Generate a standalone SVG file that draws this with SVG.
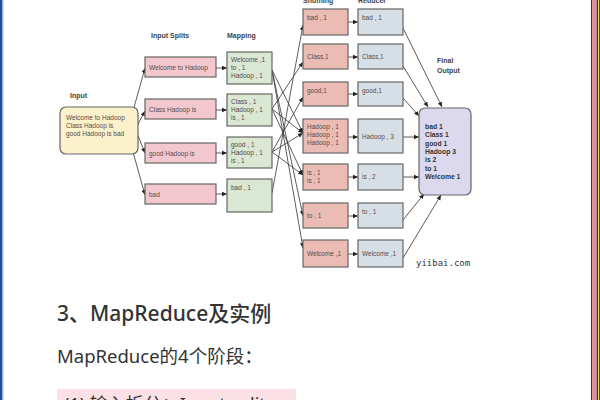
<svg xmlns="http://www.w3.org/2000/svg" width="600" height="400" viewBox="0 0 600 400">
<style>
.lbl{font-family:"Liberation Sans",Arial,sans-serif;font-size:7px;font-weight:bold;fill:#444}
.t{font-family:"Liberation Sans",Arial,sans-serif;font-size:6.5px;fill:#5a4a4a}
.box{stroke:#666;stroke-width:1.2}
.split{fill:#f2c8ce}
.map{fill:#d9e7d3}
.shuf{fill:#ebbcb4}
.red{fill:#d6dfe5}
.c{stroke:#333;stroke-width:0.8;fill:none;marker-end:url(#ah)}
.ft{font-family:"Liberation Sans",Arial,sans-serif;font-size:6.8px;font-weight:bold;fill:#333}
.cn{font-family:"Noto Sans","Noto Sans CJK SC",sans-serif;fill:#333}
</style>
<defs>
<marker id="ah" markerWidth="6" markerHeight="6" refX="5" refY="3" orient="auto" markerUnits="userSpaceOnUse">
<path d="M0,0.8 L5,3 L0,5.2 z" fill="#222"/>
</marker>
</defs>
<rect x="0" y="0" width="600" height="400" fill="#ffffff"/>
<rect x="0" y="0" width="2.5" height="400" fill="#1f4e9a"/>
<rect x="2.5" y="0" width="1" height="400" fill="#a9c3e8"/>
<rect x="591" y="0" width="1.2" height="400" fill="#333"/>
<rect x="592.2" y="0" width="4.6" height="400" fill="#e08a96"/>
<rect x="596.8" y="0" width="1.2" height="400" fill="#333"/>
<rect x="598" y="0" width="1" height="400" fill="#f2d36b"/>
<rect x="599" y="0" width="1" height="400" fill="#2a4f8f"/>

<text class="lbl" x="70" y="98">Input</text>
<text class="lbl" x="151" y="38">Input Splits</text>
<text class="lbl" x="227" y="38">Mapping</text>
<text class="lbl" x="303" y="2.5">Shuffling</text>
<text class="lbl" x="358" y="2.5">Reducer</text>
<text class="lbl" x="437" y="63">Final</text>
<text class="lbl" x="437" y="73">Output</text>

<g id="connectors">
<path class="c" d="M133,111 L145,68"/>
<path class="c" d="M137,126 L145,111"/>
<path class="c" d="M137,133 L145,153"/>
<path class="c" d="M133,152 L145,195"/>
<path class="c" d="M216,68 L227,68"/>
<path class="c" d="M216,110 L227,110"/>
<path class="c" d="M216,153 L227,153"/>
<path class="c" d="M216,194 L227,194"/>
<path class="c" d="M272,70 L303,248"/>
<path class="c" d="M272,70 L303,216"/>
<path class="c" d="M272,70 L303,133"/>
<path class="c" d="M272,109 L303,62"/>
<path class="c" d="M272,109 L303,133"/>
<path class="c" d="M272,109 L303,175"/>
<path class="c" d="M272,152 L303,97"/>
<path class="c" d="M272,152 L303,133"/>
<path class="c" d="M272,152 L303,175"/>
<path class="c" d="M272,193 L303,25"/>
<path class="c" d="M348,22 L358,22"/>
<path class="c" d="M348,57 L358,57"/>
<path class="c" d="M348,94 L358,94"/>
<path class="c" d="M348,137 L358,137"/>
<path class="c" d="M348,177 L358,177"/>
<path class="c" d="M348,216 L358,216"/>
<path class="c" d="M348,254 L358,254"/>
<path class="c" d="M403,28 L442,107"/>
<path class="c" d="M403,66 L428,107"/>
<path class="c" d="M403,98 L419,116"/>
<path class="c" d="M403,137 L419,137"/>
<path class="c" d="M403,177 L419,177"/>
<path class="c" d="M403,220 L424,194"/>
<path class="c" d="M403,258 L441,195"/>
</g>

<g id="input">
<rect x="60" y="107" width="78" height="47" rx="6" fill="#fbf2cc" stroke="#666" stroke-width="1.2"/>
<text class="t" x="66" y="120">Welcome to Hadoop</text>
<text class="t" x="66" y="128">Class Hadoop is</text>
<text class="t" x="66" y="136">good Hadoop is bad</text>
</g>

<g id="split1"><rect class="box split" x="145" y="57" width="71" height="20"/><text class="t" x="149" y="70">Welcome to Hadoop</text></g>
<g id="split2"><rect class="box split" x="145" y="99" width="71" height="20"/><text class="t" x="149" y="112">Class Hadoop is</text></g>
<g id="split3"><rect class="box split" x="145" y="143" width="71" height="20"/><text class="t" x="149" y="156">good Hadoop is</text></g>
<g id="split4"><rect class="box split" x="145" y="184" width="71" height="20"/><text class="t" x="149" y="197">bad</text></g>

<g id="map1"><rect class="box map" x="227" y="52" width="45" height="32"/><text class="t" x="231" y="62">Welcome ,1</text><text class="t" x="231" y="70">to , 1</text><text class="t" x="231" y="78">Hadoop , 1</text></g>
<g id="map2"><rect class="box map" x="227" y="94" width="45" height="32"/><text class="t" x="231" y="104">Class , 1</text><text class="t" x="231" y="112">Hadoop , 1</text><text class="t" x="231" y="120">is , 1</text></g>
<g id="map3"><rect class="box map" x="227" y="137" width="45" height="31"/><text class="t" x="231" y="147">good , 1</text><text class="t" x="231" y="155">Hadoop , 1</text><text class="t" x="231" y="163">is , 1</text></g>
<g id="map4"><rect class="box map" x="227" y="179" width="45" height="33"/><text class="t" x="231" y="190">bad , 1</text></g>

<g id="shuf1"><rect class="box shuf" x="303" y="9" width="45" height="26"/><text class="t" x="307" y="20">bad , 1</text></g>
<g id="shuf2"><rect class="box shuf" x="303" y="44" width="45" height="25"/><text class="t" x="307" y="59">Class,1</text></g>
<g id="shuf3"><rect class="box shuf" x="303" y="82" width="45" height="24"/><text class="t" x="307" y="93">good,1</text></g>
<g id="shuf4"><rect class="box shuf" x="303" y="119" width="45" height="34"/><text class="t" x="307" y="129">Hadoop , 1</text><text class="t" x="307" y="137">Hadoop , 1</text><text class="t" x="307" y="145">Hadoop , 1</text></g>
<g id="shuf5"><rect class="box shuf" x="303" y="164" width="45" height="26"/><text class="t" x="307" y="175">is , 1</text><text class="t" x="307" y="183">is , 1</text></g>
<g id="shuf6"><rect class="box shuf" x="303" y="203" width="45" height="25"/><text class="t" x="307" y="218">to ,  1</text></g>
<g id="shuf7"><rect class="box shuf" x="303" y="240" width="45" height="27"/><text class="t" x="307" y="256">Welcome ,1</text></g>

<g id="red1"><rect class="box red" x="358" y="9" width="45" height="26"/><text class="t" x="362" y="20">bad , 1</text></g>
<g id="red2"><rect class="box red" x="358" y="44" width="45" height="25"/><text class="t" x="362" y="59">Class,1</text></g>
<g id="red3"><rect class="box red" x="358" y="82" width="45" height="24"/><text class="t" x="362" y="93">good,1</text></g>
<g id="red4"><rect class="box red" x="358" y="119" width="45" height="34"/><text class="t" x="362" y="139">Hadoop , 3</text></g>
<g id="red5"><rect class="box red" x="358" y="164" width="45" height="26"/><text class="t" x="362" y="179">is , 2</text></g>
<g id="red6"><rect class="box red" x="358" y="203" width="45" height="25"/><text class="t" x="362" y="214">to ,  1</text></g>
<g id="red7"><rect class="box red" x="358" y="240" width="45" height="27"/><text class="t" x="362" y="256">Welcome ,1</text></g>

<g id="final">
<rect x="419" y="108" width="52" height="87" rx="6" fill="#dcd9ef" stroke="#666" stroke-width="1.2"/>
<text class="ft" x="425" y="129">bad 1</text>
<text class="ft" x="425" y="137.3">Class 1</text>
<text class="ft" x="425" y="145.6">good 1</text>
<text class="ft" x="425" y="153.9">Hadoop 3</text>
<text class="ft" x="425" y="162.2">is 2</text>
<text class="ft" x="425" y="170.5">to 1</text>
<text class="ft" x="425" y="178.8">Welcome 1</text>
</g>

<text x="416" y="266" font-family="'DejaVu Sans Mono',monospace" font-size="9" fill="#333">yiibai.com</text>

<text class="cn" x="57" y="321" font-size="21" font-weight="500" fill="#222">3、MapReduce及实例</text>
<text class="cn" x="57" y="363" font-size="18.5" fill="#444">MapReduce的4个阶段：</text>
<rect x="57" y="389" width="239" height="11" fill="#fbe1e6"/>
<text class="cn" x="64" y="410.5" font-size="18" fill="#333">(1) 输入拆分：Input splits</text>
</svg>
